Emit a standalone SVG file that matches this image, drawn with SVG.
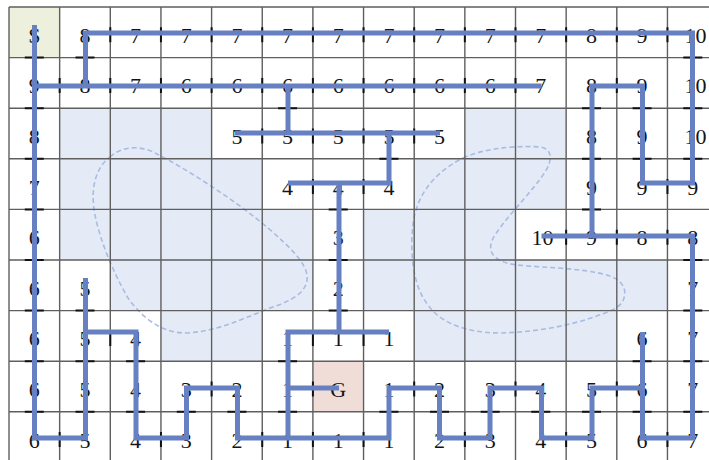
<svg xmlns="http://www.w3.org/2000/svg" width="709" height="460" viewBox="0 0 709 460">
<style>
.obst{fill:#e5ebf6}
.gridl{fill:none;stroke:#5f5f5f;stroke-width:1.4}
.lbl{font-family:"Liberation Serif","DejaVu Serif",serif;font-size:22px;text-anchor:middle;fill:#141414}
.tick{fill:none;stroke:#111;stroke-width:2}
.route{fill:none;stroke:#6680c2;stroke-width:5;stroke-linejoin:miter;stroke-linecap:butt}
.blob{fill:none;stroke:#a8bce2;stroke-width:1.6;stroke-dasharray:5 3}
</style>
<rect x="0" y="0" width="709" height="460" fill="#ffffff"/>
<g id="cells">
<rect class="obst" x="59.65" y="108.2" width="151.95" height="50.6"/>
<rect class="obst" x="464.85" y="108.2" width="101.3" height="50.6"/>
<rect class="obst" x="59.65" y="158.8" width="202.6" height="50.6"/>
<rect class="obst" x="414.2" y="158.8" width="151.95" height="50.6"/>
<rect class="obst" x="59.65" y="209.4" width="253.25" height="50.6"/>
<rect class="obst" x="363.55" y="209.4" width="151.95" height="50.6"/>
<rect class="obst" x="110.3" y="260" width="202.6" height="50.6"/>
<rect class="obst" x="363.55" y="260" width="303.9" height="50.6"/>
<rect class="obst" x="160.95" y="310.6" width="101.3" height="50.6"/>
<rect class="obst" x="414.2" y="310.6" width="202.6" height="50.6"/>
<rect id="start-cell" x="9" y="7" width="50.65" height="50.6" fill="#edf0dc"/>
<rect id="goal-cell" x="312.9" y="361.2" width="50.65" height="50.6" fill="#f1ddd8"/>
</g>
<g id="regions">
<path class="blob" d="M110,157 C122,146 140,145 155,153 C185,168 235,200 268,228 C290,247 305,262 307,275 C309,290 295,300 270,308 C240,320 215,332 185,333 C160,333 140,315 128,298 C112,270 100,240 95,215 C90,190 95,168 110,157 Z"/>
<path class="blob" d="M463,158 C480,150 510,145 540,147 C552,148 553,160 545,172 C532,192 508,215 495,235 C485,250 492,262 517,265 C545,268 600,268 618,280 C630,290 625,305 612,310 C585,322 545,332 500,333 C465,333 440,322 428,305 C412,285 410,250 413,225 C416,195 435,172 463,158 Z"/>
</g>
<g id="grid">
<path class="gridl" d="M9,7V460M59.65,7V460M110.3,7V460M160.95,7V460M211.6,7V460M262.25,7V460M312.9,7V460M363.55,7V460M414.2,7V460M464.85,7V460M515.5,7V460M566.15,7V460M616.8,7V460M667.45,7V460M9,7H709M9,57.6H709M9,108.2H709M9,158.8H709M9,209.4H709M9,260H709M9,310.6H709M9,361.2H709M9,411.8H709"/>
</g>
<g id="labels">
<g id="row0">
<text class="lbl" x="34.3" y="42.8">S</text><text class="lbl" x="85" y="42.8">8</text><text class="lbl" x="135.6" y="42.8">7</text><text class="lbl" x="186.3" y="42.8">7</text><text class="lbl" x="236.9" y="42.8">7</text><text class="lbl" x="287.6" y="42.8">7</text><text class="lbl" x="338.2" y="42.8">7</text><text class="lbl" x="388.9" y="42.8">7</text><text class="lbl" x="439.5" y="42.8">7</text><text class="lbl" x="490.2" y="42.8">7</text><text class="lbl" x="540.8" y="42.8">7</text><text class="lbl" x="591.5" y="42.8">8</text><text class="lbl" x="642.1" y="42.8">9</text><text class="lbl" x="695.5" y="42.8">10</text>
</g>
<g id="row1">
<text class="lbl" x="34.3" y="93.4">9</text><text class="lbl" x="85" y="93.4">8</text><text class="lbl" x="135.6" y="93.4">7</text><text class="lbl" x="186.3" y="93.4">6</text><text class="lbl" x="236.9" y="93.4">6</text><text class="lbl" x="287.6" y="93.4">6</text><text class="lbl" x="338.2" y="93.4">6</text><text class="lbl" x="388.9" y="93.4">6</text><text class="lbl" x="439.5" y="93.4">6</text><text class="lbl" x="490.2" y="93.4">6</text><text class="lbl" x="540.8" y="93.4">7</text><text class="lbl" x="591.5" y="93.4">8</text><text class="lbl" x="642.1" y="93.4">9</text><text class="lbl" x="695.5" y="93.4">10</text>
</g>
<g id="row2">
<text class="lbl" x="34.3" y="144">8</text><text class="lbl" x="236.9" y="144">5</text><text class="lbl" x="287.6" y="144">5</text><text class="lbl" x="338.2" y="144">5</text><text class="lbl" x="388.9" y="144">5</text><text class="lbl" x="439.5" y="144">5</text><text class="lbl" x="591.5" y="144">8</text><text class="lbl" x="642.1" y="144">9</text><text class="lbl" x="695.5" y="144">10</text>
</g>
<g id="row3">
<text class="lbl" x="34.3" y="194.6">7</text><text class="lbl" x="287.6" y="194.6">4</text><text class="lbl" x="338.2" y="194.6">4</text><text class="lbl" x="388.9" y="194.6">4</text><text class="lbl" x="591.5" y="194.6">9</text><text class="lbl" x="642.1" y="194.6">9</text><text class="lbl" x="692.8" y="194.6">9</text>
</g>
<g id="row4">
<text class="lbl" x="34.3" y="245.2">6</text><text class="lbl" x="338.2" y="245.2">3</text><text class="lbl" x="542.5" y="245.2">10</text><text class="lbl" x="591.5" y="245.2">9</text><text class="lbl" x="642.1" y="245.2">8</text><text class="lbl" x="692.8" y="245.2">8</text>
</g>
<g id="row5">
<text class="lbl" x="34.3" y="295.8">6</text><text class="lbl" x="85" y="295.8">5</text><text class="lbl" x="338.2" y="295.8">2</text><text class="lbl" x="692.8" y="295.8">7</text>
</g>
<g id="row6">
<text class="lbl" x="34.3" y="346.4">6</text><text class="lbl" x="85" y="346.4">5</text><text class="lbl" x="135.6" y="346.4">4</text><text class="lbl" x="287.6" y="346.4">1</text><text class="lbl" x="338.2" y="346.4">1</text><text class="lbl" x="388.9" y="346.4">1</text><text class="lbl" x="642.1" y="346.4">6</text><text class="lbl" x="692.8" y="346.4">7</text>
</g>
<g id="row7">
<text class="lbl" x="34.3" y="397">6</text><text class="lbl" x="85" y="397">5</text><text class="lbl" x="135.6" y="397">4</text><text class="lbl" x="186.3" y="397">3</text><text class="lbl" x="236.9" y="397">2</text><text class="lbl" x="287.6" y="397">1</text><text class="lbl" x="338.2" y="397">G</text><text class="lbl" x="388.9" y="397">1</text><text class="lbl" x="439.5" y="397">2</text><text class="lbl" x="490.2" y="397">3</text><text class="lbl" x="540.8" y="397">4</text><text class="lbl" x="591.5" y="397">5</text><text class="lbl" x="642.1" y="397">6</text><text class="lbl" x="692.8" y="397">7</text>
</g>
<g id="row8">
<text class="lbl" x="34.3" y="447.6">6</text><text class="lbl" x="85" y="447.6">5</text><text class="lbl" x="135.6" y="447.6">4</text><text class="lbl" x="186.3" y="447.6">3</text><text class="lbl" x="236.9" y="447.6">2</text><text class="lbl" x="287.6" y="447.6">1</text><text class="lbl" x="338.2" y="447.6">1</text><text class="lbl" x="388.9" y="447.6">1</text><text class="lbl" x="439.5" y="447.6">2</text><text class="lbl" x="490.2" y="447.6">3</text><text class="lbl" x="540.8" y="447.6">4</text><text class="lbl" x="591.5" y="447.6">5</text><text class="lbl" x="642.1" y="447.6">6</text><text class="lbl" x="692.8" y="447.6">7</text>
</g>
</g>
<g id="ticks">
<path class="tick" d="M59.65,432.1v15M160.95,432.1v15M262.25,432.1v15M312.9,432.1v15M363.55,432.1v15M464.85,432.1v15M566.15,432.1v15M667.45,432.1v15
M211.6,381.5v15M312.9,381.5v15M414.2,381.5v15M515.5,381.5v15M616.8,381.5v15
M110.3,330.9v15M312.9,330.9v15M363.55,330.9v15
M566.15,229.7v15M616.8,229.7v15M667.45,229.7v15
M312.9,179.1v15M363.55,179.1v15M667.45,179.1v15
M262.25,128.5v15M312.9,128.5v15M363.55,128.5v15M414.2,128.5v15
M59.65,77.9v15M110.3,77.9v15M160.95,77.9v15M211.6,77.9v15M262.25,77.9v15M312.9,77.9v15M363.55,77.9v15M414.2,77.9v15M464.85,77.9v15M515.5,77.9v15M616.8,77.9v15
M110.3,27.3v15M160.95,27.3v15M211.6,27.3v15M262.25,27.3v15M312.9,27.3v15M363.55,27.3v15M414.2,27.3v15M464.85,27.3v15M515.5,27.3v15M566.15,27.3v15M616.8,27.3v15M667.45,27.3v15
M24.8,57.6h19M24.8,108.2h19M24.8,158.8h19M24.8,209.4h19M24.8,260h19M24.8,310.6h19M24.8,361.2h19M24.8,411.8h19
M75.5,57.6h19M75.5,310.6h19M75.5,361.2h19M75.5,411.8h19
M126.1,361.2h19M126.1,411.8h19
M176.8,411.8h19M227.4,411.8h19
M278.1,108.2h19M278.1,361.2h19M278.1,411.8h19
M328.7,209.4h19M328.7,260h19M328.7,310.6h19
M379.4,158.8h19M379.4,411.8h19
M430,411.8h19M480.7,411.8h19M531.3,411.8h19
M582,108.2h19M582,158.8h19M582,209.4h19M582,411.8h19
M632.6,108.2h19M632.6,158.8h19M632.6,361.2h19M632.6,411.8h19
M683.3,57.6h19M683.3,108.2h19M683.3,158.8h19M683.3,260h19M683.3,310.6h19M683.3,361.2h19M683.3,411.8h19"/>
</g>
<g id="connectors">
<path class="route" d="M34.5,25V438H85.5V278"/>
<path class="route" d="M85.5,332H136V438H186.5V388H237.5V438H389V388H439.5V438H490V388H541.5V438H592V388H642.5"/>
<path class="route" d="M642.5,332V438H692.5V236H541.5"/>
<path class="route" d="M288,438V332H389"/>
<path class="route" d="M288,388H339"/>
<path class="route" d="M339,332V183"/>
<path class="route" d="M288,183H389V133"/>
<path class="route" d="M235,133H440"/>
<path class="route" d="M288,133V86"/>
<path class="route" d="M34.5,86H541.5"/>
<path class="route" d="M85.5,86V33H692.5V183H642.5V86H592V236"/>
</g>
</svg>
